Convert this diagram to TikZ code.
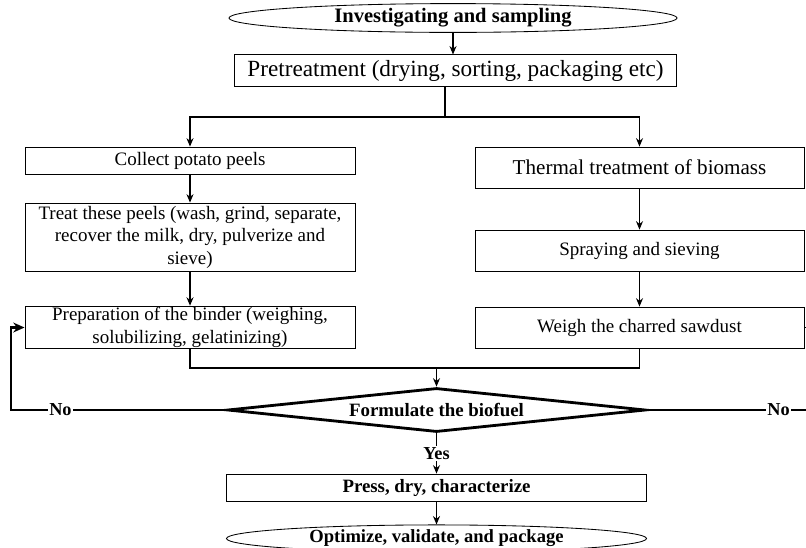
\documentclass[tikz,border=0pt]{standalone}
\usepackage{fontspec}
\setmainfont{Liberation Serif}
\usetikzlibrary{arrows,arrows.meta,shapes,positioning}
\tikzstyle{arrow} = [line width=0.8pt,->,>={Stealth[length=6pt,width=5pt]}]
\tikzstyle{line} = [line width=0.8pt]
\tikzstyle{noline} = [line width=2pt]
\tikzstyle{box} = [draw, semithick, rectangle, align=center, inner sep=1pt, font=\fontsize{13.5}{16}\selectfont]
\tikzstyle{endpoint} = [draw, semithick, ellipse, inner sep=0pt, font=\bfseries\fontsize{13.2}{15}\selectfont]
\tikzstyle{decision} = [draw, line width=2pt, diamond, aspect=8.4, inner sep=0pt, font=\bfseries\fontsize{13.4}{15}\selectfont]
\tikzstyle{answer} = [fill=white, inner sep=1pt, font=\bfseries\fontsize{13}{15}\selectfont]

\begin{document}
\begin{tikzpicture}[x=0.025cm, y=-0.025cm]
\useasboundingbox (0,0) rectangle (806,547);

% Start
\node[endpoint, minimum width=11.2cm, minimum height=0.72cm, font=\bfseries\fontsize{14.6}{16}\selectfont] (invest) at (453,18) {Investigating and sampling};
\node[box, minimum width=11.05cm, minimum height=0.78cm, font=\fontsize{16.5}{18}\selectfont] (pretreat) at (455.5,70.5) {Pretreatment (drying, sorting, packaging etc)};
\coordinate (split) at (445,117);

% Binder branch
\node[box, minimum width=8.25cm, minimum height=0.675cm] (collect) at (190,160.5) {Collect potato peels};
\node[box, minimum width=8.25cm, minimum height=1.7cm] (treat) at (190,237) {Treat these peels (wash, grind, separate,\\ recover the milk, dry, pulverize and\\ sieve)};
\node[box, minimum width=8.25cm, minimum height=1.025cm] (binder) at (190,327.5) {Preparation of the binder (weighing,\\ solubilizing, gelatinizing)};

% Sawdust branch
\node[box, minimum width=8.225cm, minimum height=1.025cm, font=\fontsize{15}{17}\selectfont] (thermal) at (639.5,167.5) {Thermal treatment of biomass};
\node[box, minimum width=8.225cm, minimum height=1.025cm] (spray) at (639.5,250.5) {Spraying and sieving};
\node[box, minimum width=8.225cm, minimum height=1.025cm] (weigh) at (639.5,327.5) {Weigh the charred sawdust};

% Formulation
\coordinate (merge) at (436.5,368);
\node[decision, minimum width=10.45cm, minimum height=1.1cm] (form) at (436.5,410) {Formulate the biofuel};
\coordinate (lturn) at (11,410);
\coordinate (rout) at (820,410);
\coordinate (rstub) at (815,327.5);
\node[box, minimum width=10.5cm, minimum height=0.675cm, font=\bfseries\fontsize{13.4}{15}\selectfont] (press) at (436.5,487.5) {Press, dry, characterize};
\node[endpoint, minimum width=10.5cm, minimum height=0.68cm] (optim) at (436.5,538.5) {Optimize, validate, and package};

% Arrows
\draw[arrow] (invest.south) -- (invest.south |- pretreat.north);
\draw[line] (pretreat.south -| split) -- (split);
\draw[arrow] (split) -| (collect.north);
\draw[arrow] (split) -| (thermal.north);
\draw[arrow] (collect) -- (treat);
\draw[arrow] (treat) -- (binder);
\draw[arrow] (thermal) -- (spray);
\draw[arrow] (spray) -- (weigh);
\draw[line] (binder.south) |- (merge) -| (weigh.south);
\draw[arrow] (merge) -- (form.north);
\draw[noline,->,>={Stealth[length=8pt,width=7pt]}] (form.west) -- node[answer, pos=0.77] {No} (lturn) |- (binder.west);
\draw[noline] (form.east) -- node[answer, pos=0.76] {No} (rout);
\draw[line] (weigh.east) -- (rstub);
\draw[arrow] (form.south) -- node[answer] {Yes} (press.north);
\draw[arrow] (press) -- (optim);
\end{tikzpicture}
\end{document}
